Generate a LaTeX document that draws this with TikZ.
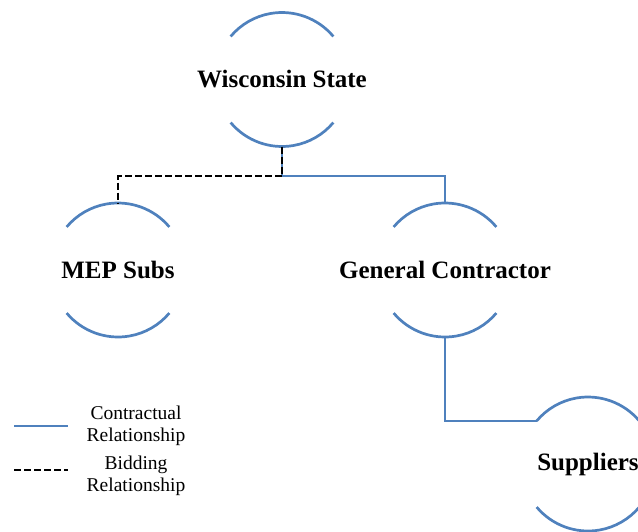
\documentclass[tikz,border=0pt]{standalone}
\usepackage{fontspec}
\setmainfont{Liberation Serif}
\definecolor{linkblue}{RGB}{79,129,189}
\tikzset{
  party/.style={inner sep=0pt, font=\fontsize{25}{29}\selectfont\bfseries},
  contract/.style={draw=linkblue, line width=2.7pt},
  bid/.style={draw=black, line width=2.5pt, dash pattern=on 7pt off 3pt},
  legendtext/.style={align=center, inner sep=0pt,
    font=\fontsize{19.5}{22.5}\selectfont}
}
% top and bottom arcs of a circle of radius 67pt round a node
\newcommand{\halfarcs}[1]{%
  \draw[contract] ([shift={(40:67pt)}]#1.center) arc[start angle=40, end angle=140, radius=67pt];
  \draw[contract] ([shift={(-140:67pt)}]#1.center) arc[start angle=-140, end angle=-40, radius=67pt];
  \coordinate (#1-top) at ([shift={(0pt,67pt)}]#1.center);
  \coordinate (#1-bot) at ([shift={(0pt,-67pt)}]#1.center);
  \coordinate (#1-left) at ([shift={(140:67pt)}]#1.center);}
\begin{document}
\begin{tikzpicture}[x=1pt, y=-1pt]
  \useasboundingbox (0,0) rectangle (638,531);
  \clip (0,0) rectangle (638,531);
  % --- parties ---
  \node[party] (ws) at (282,79.5) {Wisconsin State};
  \node[party] (mep) at (118,270) {MEP Subs};
  \node[party] (gc) at (445,270) {General Contractor};
  \node[party] (sup) at (588,464) {Suppliers};
  \halfarcs{ws}
  \halfarcs{mep}
  \halfarcs{gc}
  \halfarcs{sup}
  % --- relationships ---
  \coordinate (split) at (282,176);
  \draw[contract] (ws-bot) -- (split) -| (gc-top);
  \draw[bid] (ws-bot) -- (split) -| (mep-top);
  \draw[contract] (gc-bot) |- (sup-left);
  % --- legend ---
  \coordinate (cl) at (14,426);
  \coordinate (cr) at (68,426);
  \draw[contract] (cl) -- (cr);
  \node[legendtext] (ctext) at (136,426) {Contractual\\Relationship};
  \coordinate (bl) at (14,470);
  \coordinate (br) at (68,470);
  \draw[bid] (bl) -- (br);
  \node[legendtext] (btext) at (136,476) {Bidding\\Relationship};
\end{tikzpicture}
\end{document}
